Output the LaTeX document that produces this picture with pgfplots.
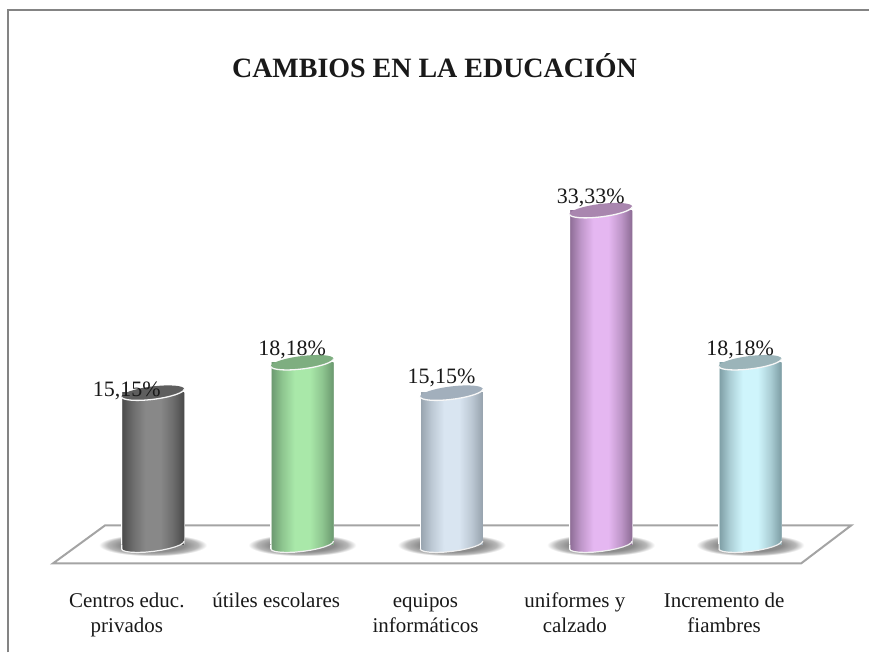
\documentclass[border=0pt]{standalone}
\usepackage{fontspec}
\setmainfont{Liberation Serif}
\usepackage{pgfplots}
\usepackage{pgfplotstable}
\pgfplotsset{compat=1.18}
\definecolor{frameg}{HTML}{848484}
\definecolor{floorg}{HTML}{A4A4A4}
\newcommand{\ellpath}{\pgfpathellipse{\pgfpointorigin}{\pgfqpoint{31.4pt}{3.9pt}}{\pgfqpoint{-0.8pt}{6.4pt}}}
\newcommand{\lowerrim}{%
   \pgfscope
   \pgftransformrotate{7}%
   \pgfpathrectangle{\pgfqpoint{-40pt}{-14pt}}{\pgfqpoint{80pt}{14pt}}\pgfusepath{clip}%
   \pgftransformrotate{-7}%
   \ellpath\pgfusepath{stroke}%
   \endpgfscope}
\newcommand{\mkcyl}[4]{%
 \pgfdeclarehorizontalshading{cyl#1}{100bp}{%
   color(0bp)=(white); color(25bp)=(white); color(25.6bp)=(#2); color(34bp)=(#2!45!#3);
   color(44bp)=(#3); color(56bp)=(#3); color(66bp)=(#2!45!#3); color(74.4bp)=(#2); color(75bp)=(white); color(100bp)=(white)}%
 \pgfdeclareplotmark{top#1}{%
   \pgfsetfillcolor{#4}%
   \ellpath\pgfusepath{fill}%
   \pgfsetlinewidth{1.3pt}\pgfsetstrokecolor{white!94!gray}%
   \lowerrim}%
}
\definecolor{e1}{HTML}{4B4B4B}\definecolor{m1}{HTML}{888888}\definecolor{t1}{HTML}{5E5E5E}
\definecolor{e2}{HTML}{6C9A70}\definecolor{m2}{HTML}{A9E8A9}\definecolor{t2}{HTML}{7EAE80}
\definecolor{e3}{HTML}{98A4AF}\definecolor{m3}{HTML}{D9E5F1}\definecolor{t3}{HTML}{A2AFBC}
\definecolor{e4}{HTML}{8F6E97}\definecolor{m4}{HTML}{E5B7F1}\definecolor{t4}{HTML}{A986AF}
\definecolor{e5}{HTML}{7F9FA6}\definecolor{m5}{HTML}{CFF5FC}\definecolor{t5}{HTML}{9BB4B9}
\mkcyl{a}{e1}{m1}{t1}
\mkcyl{b}{e2}{m2}{t2}
\mkcyl{c}{e3}{m3}{t3}
\mkcyl{d}{e4}{m4}{t4}
\mkcyl{e}{e5}{m5}{t5}
\pgfdeclareradialshading{shadowrad}{\pgfpointorigin}{%
  color(0bp)=(black!50); color(15bp)=(black!45); color(21bp)=(black!28); color(25bp)=(white); color(50bp)=(white)}
% outline of the round foot of a cylinder, offsets in pixels from the foot's centre
\pgfplotstableread{
dx dy
-31.5 0
-31.5 -3.9
-30.12 -5.43
-26.79 -6.58
-21.63 -7.28
-15.01 -7.49
-7.36 -7.19
0.8 -6.4
8.90 -5.17
16.39 -3.59
22.77 -1.76
27.59 0.18
31.5 0
}\capT
\pgfplotstableread{
dx dy
-31.4 -3.9
-30.12 -5.43
-26.79 -6.58
-21.63 -7.28
-15.01 -7.49
-7.36 -7.19
0.8 -6.4
8.90 -5.17
16.39 -3.59
22.77 -1.76
27.59 0.18
30.3 2.0
31.4 3.9
}\rimT
\pgfplotstableread{
dx dy
-54 -11
54 -11
54 11
-54 11
}\shadowT
\newcommand{\cyl}[3]{% name, x, value
  \addplot[draw=none, shade, shading=shadowrad] table[x expr=#2+\thisrow{dx}/149.5, y expr=\thisrow{dy}/10.05] {\shadowT} -- cycle;
  \addplot[draw=none, shade, shading=cyl#1] table[x expr=#2+\thisrow{dx}/149.5, y expr=\thisrow{dy}/10.05] {\capT} -- cycle;
  \addplot[ybar, bar shift=0pt, bar width=63pt, draw=none, shade, shading=cyl#1] coordinates {(#2,#3)};
  \addplot[draw=white!88!gray, line width=1.2pt, mark=none] table[x expr=#2+\thisrow{dx}/149.5, y expr=\thisrow{dy}/10.05] {\rimT};
  \addplot[only marks, mark=top#1] coordinates {(#2,#3)};
}
\newcommand{\lab}[4]{%
  \addplot[draw=none, mark=none,
     nodes near coords={\pgfmathprintnumber{\pgfplotspointmeta}\%},
     every node near coord/.append style={xshift=#3, yshift=#4, anchor=center, inner sep=0pt,
       font=\fontsize{22}{24}\selectfont, text=black!90},
     /pgf/number format/.cd, fixed, fixed zerofill, precision=2, use comma, assume math mode=true]
     coordinates {(#1,#2)};
}
\begin{document}
\begin{tikzpicture}
\begin{axis}[
  scale only axis, width=870pt, height=653pt,
  xmin=-1.02341, xmax=4.79599, ymin=-10.697, ymax=54.279,
  clip=false,
  axis line style={draw=none}, major tick length=0pt,
  ytick=\empty,
  xtick={0,1,2,3,4},
  xticklabels={{\strut Centros educ.\\privados}, {\strut útiles escolares}, {\strut equipos\\informáticos}, {\strut uniformes y\\calzado}, {\strut Incremento de\\fiambres}},
  xticklabel style={align=center, xshift=-26pt, yshift=66pt, font=\fontsize{21}{25}\selectfont, text=black!90},
  title={\fontsize{28}{32}\selectfont\bfseries CAMBIOS EN LA EDUCACIÓN},
  title style={at={(axis description cs:0.5,0.89)}, anchor=center, inner sep=0pt, text=black!90},
]
\draw[frameg, line width=2pt] (rel axis cs:0.0092,0) -- (rel axis cs:0.0092,0.9847) -- (rel axis cs:1,0.9847);
% floor
\addplot[draw=floorg, line width=2pt, fill=white, line join=miter] coordinates {(-0.669,-1.841) (-0.321,1.940) (4.676,1.940) (4.341,-1.841)} -- cycle;
\cyl{a}{0}{15.15}
\cyl{b}{1}{18.18}
\cyl{c}{2}{15.15}
\cyl{d}{3}{33.33}
\cyl{e}{4}{18.18}
\lab{0}{15.15}{-26pt}{2pt}
\lab{1}{18.18}{-10pt}{12.5pt}
\lab{2}{15.15}{-10pt}{15pt}
\lab{3}{33.33}{-10pt}{13pt}
\lab{4}{18.18}{-10pt}{12.5pt}
\end{axis}
\end{tikzpicture}
\end{document}
